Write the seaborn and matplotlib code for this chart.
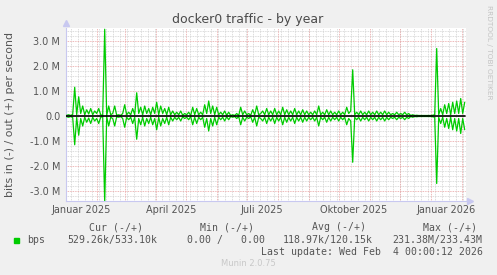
import numpy as np
import pandas as pd
import matplotlib
matplotlib.use("Agg")
import matplotlib.pyplot as plt
import seaborn as sns

# ---------------- data (values in Mbit/s) ----------------
start_date = "2025-01-02"
step_days = 2
traffic_m = [
    0.03, 0.05, 0.02, 0.06, 1.15, 0.05, 0.77, 0.10, 0.40, 0.05,
    0.25, 0.08, 0.30, 0.05, 0.20, 0.10, 0.30, 0.05, 0.02, 3.47,
    0.02, 0.40, 0.05, 0.10, 0.40, 0.03, 0.05, 0.02, 0.10, 0.45,
    0.05, 0.15, 0.05, 0.30, 0.05, 0.93, 0.10, 0.35, 0.05, 0.40,
    0.10, 0.30, 0.05, 0.35, 0.10, 0.55, 0.05, 0.40, 0.10, 0.30,
    0.05, 0.35, 0.05, 0.20, 0.05, 0.15, 0.05, 0.20, 0.03, 0.10,
    0.05, 0.15, 0.02, 0.35, 0.05, 0.30, 0.05, 0.15, 0.05, 0.45,
    0.10, 0.60, 0.10, 0.40, 0.05, 0.35, 0.05, 0.15, 0.05, 0.20,
    0.03, 0.15, 0.02, 0.05, 0.02, 0.10, 0.02, 0.35, 0.05, 0.20,
    0.05, 0.10, 0.03, 0.25, 0.05, 0.40, 0.05, 0.10, 0.20, 0.05,
    0.30, 0.05, 0.20, 0.05, 0.30, 0.05, 0.20, 0.05, 0.35, 0.05,
    0.25, 0.05, 0.20, 0.05, 0.30, 0.05, 0.20, 0.05, 0.25, 0.05,
    0.20, 0.05, 0.15, 0.05, 0.20, 0.05, 0.40, 0.05, 0.15, 0.05,
    0.25, 0.05, 0.20, 0.05, 0.15, 0.05, 0.20, 0.05, 0.15, 0.05,
    0.35, 0.10, 0.20, 1.85, 0.05, 0.15, 0.05, 0.20, 0.05, 0.15,
    0.05, 0.20, 0.05, 0.15, 0.05, 0.20, 0.05, 0.15, 0.05, 0.20,
    0.05, 0.15, 0.05, 0.10, 0.05, 0.15, 0.05, 0.10, 0.05, 0.15,
    0.05, 0.10, 0.02, 0.05, 0.02, 0.03, 0.02, 0.02, 0.02, 0.02,
    0.02, 0.02, 0.02, 0.03, 0.05, 2.70, 0.05, 0.30, 0.05, 0.45,
    0.10, 0.50, 0.05, 0.55, 0.10, 0.60, 0.10, 0.70, 0.10, 0.55,
]
month_labels = ["Januar 2025", "April 2025", "Juli 2025", "Oktober 2025", "Januar 2026"]
label_dates = ["2025-01-16", "2025-04-16", "2025-07-16", "2025-10-16", "2026-01-16"]
ytick_vals = [-3, -2, -1, 0, 1, 2, 3]
ytick_labels = ["-3.0 M", "-2.0 M", "-1.0 M", "0.0", "1.0 M", "2.0 M", "3.0 M"]

dates = pd.date_range(start_date, periods=len(traffic_m), freq=f"{step_days}D")
df = pd.concat([
    pd.DataFrame({"date": dates, "value": np.array(traffic_m), "dir": "out"}),
    pd.DataFrame({"date": dates, "value": -np.array(traffic_m), "dir": "in"}),
])

# ---------------- figure ----------------
sns.set_style("white")
plt.rcParams["font.family"] = ["DejaVu Sans"]
W, H = 497, 275
fig = plt.figure(figsize=(W / 100, H / 100), dpi=100, facecolor="#f0f0f0")
ax = fig.add_axes([65.7 / W, 1 - 201 / H, 400 / W, 173 / H])
ax.set_facecolor("white")

x0, x1 = pd.Timestamp("2025-01-01"), pd.Timestamp("2026-02-05")
ax.set_xlim(x0, x1)
ax.set_ylim(-3.4, 3.52)

# grid
minor_col = "#d0d0d0"
major_col = "#e8a0a0"
for yv in np.arange(-3.4, 3.6, 0.2):
    if abs(yv - round(yv)) > 1e-6:
        ax.axhline(yv, color=minor_col, lw=0.6, ls=(0, (1, 1)), zorder=0)
for wk in pd.date_range("2025-01-06", x1, freq="7D"):
    ax.axvline(wk, color=minor_col, lw=0.6, ls=(0, (1, 1)), zorder=0)
for yv in ytick_vals:
    ax.axhline(yv, color=major_col, lw=0.6, ls=(0, (1, 1)), zorder=1)
for m in pd.date_range("2025-02-01", x1, freq="MS"):
    ax.axvline(m, color=major_col, lw=0.6, ls=(0, (1, 1)), zorder=1)

sns.lineplot(data=df, x="date", y="value", units="dir", estimator=None,
             color="#00cc00", lw=0.9, ax=ax, zorder=3, legend=False)
ax.plot([x0, dates[-1]], [0, 0], color="black", lw=1.2, zorder=4)

# axes styling
for s in ["top", "right"]:
    ax.spines[s].set_visible(False)
for s in ["left", "bottom"]:
    ax.spines[s].set_color("#c8c8f0")
    ax.spines[s].set_linewidth(0.8)
ax.plot([0], [1.03], marker="^", color="#c8c8f0", ms=4, transform=ax.transAxes, clip_on=False)
ax.plot([1.01], [0], marker=">", color="#c8c8f0", ms=4, transform=ax.transAxes, clip_on=False)

ax.set_yticks(ytick_vals)
ax.set_yticklabels(ytick_labels)
ax.set_xticks(pd.to_datetime(label_dates))
ax.set_xticklabels(month_labels)
ax.tick_params(axis="both", length=0, labelsize=7, colors="#555555", pad=4)
ax.tick_params(axis="x", pad=3)
ax.set_xlabel("")
ax.set_ylabel("bits in (-) / out (+) per second", fontsize=7.9, color="#555555")
ax.yaxis.set_label_coords(-50.5 / 400, 0.5)

fig.text(248 / W, 1 - 19 / H, "docker0 traffic - by year", ha="center", va="center",
         fontsize=9, color="#4a4a4a")
fig.text(489 / W, 1 - 5 / H, "RRDTOOL / TOBI OETIKER", rotation=270, ha="center", va="top",
         fontsize=5.3, color="#c4c4c4")

mono = dict(family="DejaVu Sans Mono", fontsize=7.15, color="#555555", va="center")
fig.text(89 / W, 1 - 227.5 / H, "Cur (-/+)", ha="left", **mono)
fig.text(200 / W, 1 - 227.5 / H, "Min (-/+)", ha="left", **mono)
fig.text(312 / W, 1 - 227.5 / H, "Avg (-/+)", ha="left", **mono)
fig.text(423 / W, 1 - 227.5 / H, "Max (-/+)", ha="left", **mono)
fig.patches.append(plt.Rectangle((14 / W, 1 - 242.5 / H), 5 / W, 5 / H, color="#00cc00",
                                 transform=fig.transFigure, figure=fig))
fig.text(27 / W, 1 - 240 / H, "bps", ha="left", **mono)
fig.text(67 / W, 1 - 240 / H, "529.26k/533.10k", ha="left", **mono)
fig.text(187 / W, 1 - 240 / H, "0.00 /   0.00", ha="left", **mono)
fig.text(283 / W, 1 - 240 / H, "118.97k/120.15k", ha="left", **mono)
fig.text(392 / W, 1 - 240 / H, "231.38M/233.43M", ha="left", **mono)
fig.text(483 / W, 1 - 252 / H, "Last update: Wed Feb  4 00:00:12 2026", ha="right", **mono)
fig.text(248 / W, 1 - 264 / H, "Munin 2.0.75", ha="center", va="center",
         fontsize=6, color="#c8c8c8")

fig.savefig("out.png", dpi=100, facecolor=fig.get_facecolor())
